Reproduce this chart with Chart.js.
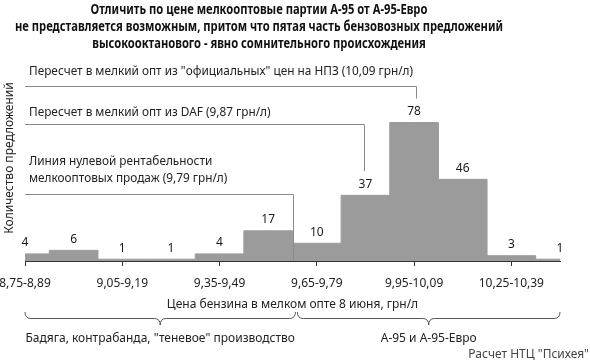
<!DOCTYPE html>
<html><head><meta charset="utf-8">
<script src="https://cdn.jsdelivr.net/npm/chart.js@4.4.0/dist/chart.umd.min.js"></script>
<style>html,body{margin:0;padding:0;background:#fff}</style>
</head><body>
<canvas id="c" width="590" height="360"></canvas>
<script>
const categories = ["8,75-8,89","8,90-9,04","9,05-9,19","9,20-9,34","9,35-9,49","9,50-9,64","9,65-9,79","9,80-9,94","9,95-10,09","10,10-10,24","10,25-10,39","10,40-10,54"];
const offers = [4, 6, 1, 1, 4, 17, 10, 37, 78, 46, 3, 1];
const titleLines = [
  "Отличить по цене мелкооптовые партии А-95 от А-95-Евро",
  "не представляется возможным, притом что пятая часть бензовозных предложений",
  "высокооктанового - явно сомнительного происхождения"
];
const yAxisTitle = "Количество предложений";
const xAxisTitle = "Цена бензина в мелком опте 8 июня, грн/л";
const refTexts = [
  ["Пересчет в мелкий опт из \"официальных\" цен на НПЗ (10,09 грн/л)"],
  ["Пересчет в мелкий опт из DAF (9,87 грн/л)"],
  ["Линия нулевой рентабельности", "мелкооптовых продаж (9,79 грн/л)"]
];
const refPositions = [8.03, 6.96, 5.5];
const groupLabels = ["Бадяга, контрабанда, \"теневое\" производство", "А-95 и А-95-Евро"];
const groupRanges = [[0, 5.56], [5.6, 11]];
const sourceText = "Расчет НТЦ \"Психея\"";

const FONT = "'Noto Sans', sans-serif";
Chart.defaults.font.family = FONT;
Chart.defaults.font.size = 12;
Chart.defaults.color = '#222';

function drawText(ctx, s, x, y, font, align, color, sx) {
  ctx.save();
  ctx.font = font;
  ctx.fillStyle = color;
  ctx.textBaseline = 'middle';
  ctx.textAlign = align;
  ctx.translate(x, y);
  ctx.scale(sx || 1, 1);
  ctx.fillText(s, 0, 0);
  ctx.restore();
}

const decor = {
  id: 'decor',
  afterDraw(chart) {
    const ctx = chart.ctx;
    const xs = chart.scales.x, ys = chart.scales.y;
    const px = v => xs.getPixelForValue(0) + v * (xs.getPixelForValue(1) - xs.getPixelForValue(0));
    const left = chart.chartArea.left;

    // title
    const tFont = "bold 14px " + FONT;
    ctx.save();
    ctx.font = tFont;
    const w2 = ctx.measureText(titleLines[1]).width;
    ctx.restore();
    const tsx = 488 / w2;
    const ty = [10, 27, 44];
    titleLines.forEach((t, i) => drawText(ctx, t, 259, ty[i], tFont, 'center', '#111', tsx));

    // y axis title
    ctx.save();
    ctx.translate(10, 158);
    ctx.rotate(-Math.PI / 2);
    drawText(ctx, yAxisTitle, 0, 0, "12px " + FONT, 'center', '#222', 1);
    ctx.restore();

    // reference lines
    const textY = [[72], [113], [162, 179]];
    const lineY = [86, 124, 194];
    ctx.save();
    ctx.strokeStyle = '#8a8a8a';
    ctx.lineWidth = 1;
    refTexts.forEach((lines, i) => {
      lines.forEach((t, j) => drawText(ctx, t, left + 4, textY[i][j], "12px " + FONT, 'left', '#222', 0.985));
      const x = Math.round(px(refPositions[i])) + 0.5;
      const y0 = lineY[i] + 0.5;
      let y1;
      if (i < 2) y1 = ys.getPixelForValue(offers[Math.round(refPositions[i])]) - 24;
      else y1 = ys.getPixelForValue(0);
      ctx.beginPath();
      ctx.moveTo(left, y0);
      ctx.lineTo(x, y0);
      ctx.lineTo(x, y1);
      ctx.stroke();
    });
    ctx.restore();

    // braces
    ctx.save();
    ctx.strokeStyle = '#555';
    ctx.lineWidth = 1;
    const yT = 312, yM = 318.5, yB = 325, r = 6;
    groupRanges.forEach((g, i) => {
      const x1 = px(g[0]), x2 = px(g[1]), xm = (x1 + x2) / 2;
      ctx.beginPath();
      ctx.moveTo(x1, yT);
      ctx.quadraticCurveTo(x1, yM, x1 + r, yM);
      ctx.lineTo(xm - r, yM);
      ctx.quadraticCurveTo(xm, yM, xm, yB);
      ctx.quadraticCurveTo(xm, yM, xm + r, yM);
      ctx.lineTo(x2 - r, yM);
      ctx.quadraticCurveTo(x2, yM, x2, yT);
      ctx.stroke();
      drawText(ctx, groupLabels[i], xm, 339, "12px " + FONT, 'center', '#222', 1);
    });
    ctx.restore();

    drawText(ctx, sourceText, 589, 355, "12px " + FONT, 'right', '#444', 1);
  },
  afterDatasetsDraw(chart) {
    const ctx = chart.ctx;
    const meta = chart.getDatasetMeta(0);
    meta.data.forEach((pt, i) => {
      drawText(ctx, String(offers[i]), pt.x, pt.y - 11, "12px " + FONT, 'center', '#1a1a1a', 1);
    });
  }
};

new Chart(document.getElementById('c'), {
  type: 'line',
  data: {
    labels: categories,
    datasets: [{
      data: offers,
      stepped: 'middle',
      fill: 'origin',
      backgroundColor: '#9b9b9b',
      borderColor: '#9b9b9b',
      borderWidth: 1,
      pointRadius: 0,
      clip: false
    }]
  },
  options: {
    responsive: false,
    devicePixelRatio: 1,
    animation: false,
    layout: { padding: { left: 25, right: 30, top: 119, bottom: 0 } },
    plugins: { legend: { display: false }, title: { display: false }, tooltip: { enabled: false } },
    scales: {
      x: {
        offset: false,
        grid: {
          display: true, drawOnChartArea: false, drawTicks: true, tickLength: 5, z: 1,
          color: c => (c.index % 2 === 0 ? '#333' : 'rgba(0,0,0,0)')
        },
        border: { display: true, color: '#333', width: 1, z: 1 },
        ticks: {
          autoSkip: false, maxRotation: 0, padding: 10, color: '#222',
          font: { size: 12 },
          callback: function (v, i) { return i % 2 === 0 ? this.getLabelForValue(v) : ''; }
        },
        title: { display: true, text: xAxisTitle, color: '#222', font: { size: 12 }, padding: { top: 4, bottom: 48 } },
        afterFit: s => { s.height = 99; s.paddingLeft = 0; s.paddingRight = 0; }
      },
      y: { display: false, min: 0, max: 80 }
    }
  },
  plugins: [decor]
});
</script>
</body></html>
